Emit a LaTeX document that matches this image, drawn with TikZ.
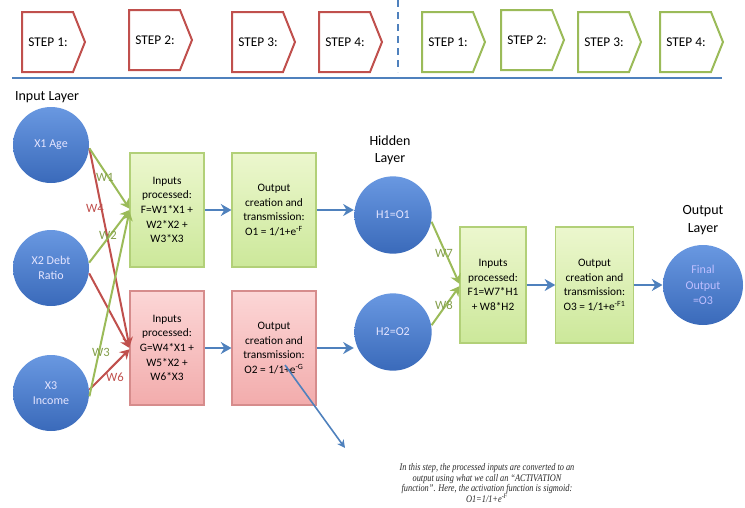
\documentclass[tikz,border=0pt]{standalone}
\usepackage{fontspec}
\setmainfont{Carlito}
\newfontfamily\notefont[FakeStretch=0.82]{Liberation Serif}
\usetikzlibrary{arrows.meta}

\definecolor{stepred}{RGB}{192,80,77}
\definecolor{stepgreen}{RGB}{155,187,89}
\definecolor{lineblue}{RGB}{79,129,189}
\definecolor{balltop}{RGB}{105,152,225}
\definecolor{ballbottom}{RGB}{58,106,186}
\definecolor{greentop}{RGB}{236,247,206}
\definecolor{greenbottom}{RGB}{204,232,154}
\definecolor{greenedge}{RGB}{178,208,120}
\definecolor{redtop}{RGB}{252,214,214}
\definecolor{redbottom}{RGB}{242,172,172}
\definecolor{rededge}{RGB}{214,140,140}

\begin{document}
\begin{tikzpicture}[x=0.75pt,y=-0.75pt,thick]
    %
    % `redstep'/`greenstep' are the chevrons of the top row.
    % `neuron' is used for the blue circles, `procgreen'/`procred' for the boxes.
    % `flow' is the blue arrow, `linkgreen'/`linkred' the weighted links.
    \tikzstyle{redstep} = [draw=stepred,line width=1.5pt,fill=white,line join=miter]
    \tikzstyle{greenstep} = [draw=stepgreen,line width=1.5pt,fill=white,line join=miter]
    \tikzstyle{steplabel} = [font=\fontsize{10}{12}\selectfont,inner sep=0pt]
    \tikzstyle{neuron} = [circle,minimum size=57pt,inner sep=0pt,top color=balltop,bottom color=ballbottom,text=white!90!blue,align=center,font=\fontsize{9}{11.5}\selectfont]
    \tikzstyle{procgreen} = [draw=greenedge,top color=greentop,bottom color=greenbottom,minimum width=55.5pt,minimum height=85.5pt,inner sep=1pt,align=center,font=\fontsize{8.5}{11}\selectfont]
    \tikzstyle{procred} = [draw=rededge,top color=redtop,bottom color=redbottom,minimum width=55.5pt,minimum height=85.5pt,inner sep=1pt,align=center,font=\fontsize{8.5}{11}\selectfont]
    \tikzstyle{flow} = [draw=lineblue,line width=2.2pt,-{Stealth[length=8pt,width=9pt]}]
    \tikzstyle{linkgreen} = [draw=stepgreen,line width=1.5pt,-{Stealth[length=7pt,width=8pt]}]
    \tikzstyle{linkred} = [draw=stepred,line width=1.5pt,-{Stealth[length=7pt,width=8pt]}]
    \tikzstyle{layer} = [font=\fontsize{10.5}{13}\selectfont,align=center,inner sep=0pt]
    \tikzstyle{wlabel} = [font=\fontsize{9.5}{10}\selectfont,inner sep=0pt]
    %
    \useasboundingbox (0,0) rectangle (745,507);
    %
    % Step row
    \foreach \x/\y/\n in {22/12/1,129/10/2,232/12/3,319/12/4} {
        \draw[redstep] (\x,\y) -- ++(51,0) -- ++(12,30) -- ++(-12,30) -- ++(-51,0) -- cycle;
        \node[steplabel] (redstep\n) at (\x+26,\y+30) {STEP \n:};
    }
    \foreach \x/\y/\n in {422/12/1,501/10/2,578/12/3,660/12/4} {
        \draw[greenstep] (\x,\y) -- ++(51,0) -- ++(12,30) -- ++(-12,30) -- ++(-51,0) -- cycle;
        \node[steplabel] (greenstep\n) at (\x+26,\y+30) {STEP \n:};
    }
    \draw[lineblue,line width=1.5pt,dash pattern=on 5pt off 4pt] (398,0) -- (398,72);
    \draw[lineblue,line width=2pt] (12,78) -- (722,78);
    %
    % Layer titles
    \node[layer] (inputtitle) at (47,97) {Input Layer};
    \node[layer] (hiddentitle) at (390,150) {Hidden\\Layer};
    \node[layer] (outputtitle) at (703,220) {Output\\Layer};
    %
    % Input layer
    \node[neuron] (x1) at (51,145) {X1 Age};
    \node[neuron] (x2) at (51,268) {X2 Debt\\Ratio};
    \node[neuron] (x3) at (51,393) {X3\\Income};
    %
    % First processing column
    \node[procgreen] (f) at (167,210) {Inputs\\processed:\\F=W1*X1 +\\W2*X2 +\\W3*X3};
    \node[procgreen,minimum width=63pt] (o1) at (274,210) {Output\\creation and\\transmission:\\O1 = 1/1+e\textsuperscript{-F}};
    \node[procred] (g) at (167,348) {Inputs\\processed:\\G=W4*X1 +\\W5*X2 +\\W6*X3};
    \node[procred,minimum width=63pt] (o2) at (274,348) {Output\\creation and\\transmission:\\O2 = 1/1+e\textsuperscript{-G}};
    %
    % Hidden layer
    \node[neuron,minimum size=58pt] (h1) at (393,215) {H1=O1};
    \node[neuron,minimum size=58pt] (h2) at (393,332) {H2=O2};
    %
    % Second processing column
    \node[procgreen,minimum width=49.5pt,minimum height=87pt] (f1) at (493,285) {Inputs\\processed:\\F1=W7*H1\\+ W8*H2};
    \node[procgreen,minimum width=58pt,minimum height=87pt] (o3) at (594.5,285) {Output\\creation and\\transmission:\\O3 = 1/1+e\textsuperscript{-F1}};
    \node[neuron,minimum size=60pt,text=white!75!blue] (out) at (703,285) {Final\\Output\\=O3};
    %
    % Weighted links
    \draw[linkred] (x1.-5) -- (g.178);
    \draw[linkred] (x2.-8) -- (g.180);
    \draw[linkred] (x3.5) -- (g.182);
    \draw[linkgreen] (x1.-5) -- (f.178);
    \draw[linkgreen] (x2.8) -- (f.180);
    \draw[linkgreen] (x3.-5) -- (f.182);
    \draw[linkgreen] (h1.-10) -- (f1.178);
    \draw[linkgreen] (h2.10) -- (f1.182);
    \node[wlabel,text=stepgreen!85!black] (w1) at (105,177) {W1};
    \node[wlabel,text=stepred] (w4) at (95,208) {W4};
    \node[wlabel,text=stepgreen!85!black] (w2) at (108,235) {W2};
    \node[wlabel,text=stepgreen!85!black] (w3) at (101,352) {W3};
    \node[wlabel,text=stepred] (w6) at (115,377) {W6};
    \node[wlabel,text=stepgreen!85!black] (w7) at (444,253) {W7};
    \node[wlabel,text=stepgreen!85!black] (w8) at (444,305) {W8};
    %
    % Flow
    \draw[flow] (f) -- (o1);
    \draw[flow] (o1.east) -- (o1.east -| h1.west);
    \draw[flow] (g) -- (o2);
    \draw[flow] (o2.east) -- (o2.east -| h2.west);
    \draw[flow] (f1) -- (o3);
    \draw[flow] (o3) -- (out);
    %
    % Note on the activation step
    \coordinate (notestart) at (285,365);
    \coordinate (notetip) at (345,448);
    \draw[lineblue,line width=1.2pt,-{Stealth[length=6pt,width=6pt]}] (notestart) -- (notetip);
    \node[font=\notefont\itshape\fontsize{7.6}{8}\selectfont,align=center,inner sep=0pt,text=black!85] (note) at (487,483)
        {In this step, the processed inputs are converted to an\\output using what we call an “ACTIVATION\\function”. Here, the activation function is sigmoid:\\O1=1/1+e\textsuperscript{-F}};
    %
\end{tikzpicture}
\end{document}
